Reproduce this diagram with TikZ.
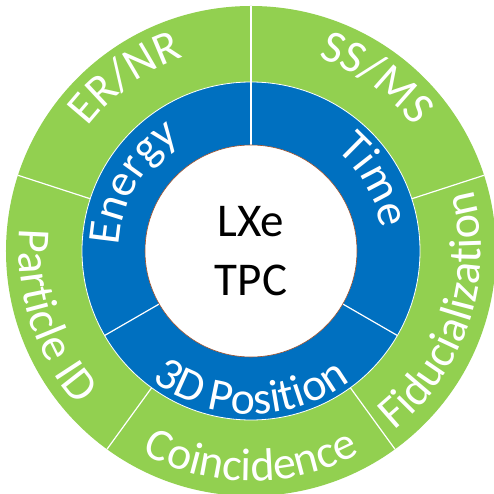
\documentclass[tikz,border=0pt]{standalone}
\usepackage{fontspec}
\setmainfont{Carlito}
\usetikzlibrary{decorations.text}
\definecolor{ringgreen}{HTML}{92D050}
\definecolor{ringblue}{HTML}{0070C0}
\definecolor{coreedge}{HTML}{A0522D}
\newcommand{\ringfont}{\fontsize{46}{54}\selectfont\color{white}}

\begin{document}
\begin{tikzpicture}[
    divider/.style={draw=white, line width=1.2pt},
    arctext/.style={decorate,
        decoration={text along path, text align=center, text={|\ringfont|#1}}},
    coretext/.style={font=\fontsize{47}{59}\selectfont, align=center, text=black},
]

\useasboundingbox (-251pt,-243pt) rectangle (242pt,251pt);

% ===== Rings =====
\fill[ringgreen] (0,0) circle[radius=245pt];
\fill[ringblue] (0,0) circle[radius=169pt];
\draw[white, line width=0.8pt] (0,0) circle[radius=169pt];

% ===== Dividers =====
\foreach \a in {18,90,162,234,306}
    \draw[divider] (\a:169pt) -- (\a:245pt);
\foreach \a in {90,210,330}
    \draw[divider] (\a:106pt) -- (\a:169pt);

% ===== Core =====
\draw[fill=white, draw=coreedge, line width=0.6pt] (0,0) circle[radius=106pt];
\node[coretext] (tpc) at (0,0) {LXe\\TPC};

% ===== Outer ring labels =====
\path[arctext={ER/NR}] (162:205pt) arc[start angle=162, end angle=90, radius=205pt];
\path[arctext={SS/MS}] (90:205pt) arc[start angle=90, end angle=18, radius=205pt];
\path[arctext={Fiducialization}] (-54:230pt) arc[start angle=-54, end angle=18, radius=230pt];
\path[arctext={Coincidence}] (234:230pt) arc[start angle=234, end angle=306, radius=230pt];
\path[arctext={Particle ID}] (162:232pt) arc[start angle=162, end angle=234, radius=232pt];

% ===== Inner ring labels =====
\path[arctext={Energy}] (210:132pt) arc[start angle=210, end angle=90, radius=132pt];
\path[arctext={Time}] (90:132pt) arc[start angle=90, end angle=-30, radius=132pt];
\path[arctext={3D Position}] (210:163pt) arc[start angle=210, end angle=330, radius=163pt];

\end{tikzpicture}
\end{document}
